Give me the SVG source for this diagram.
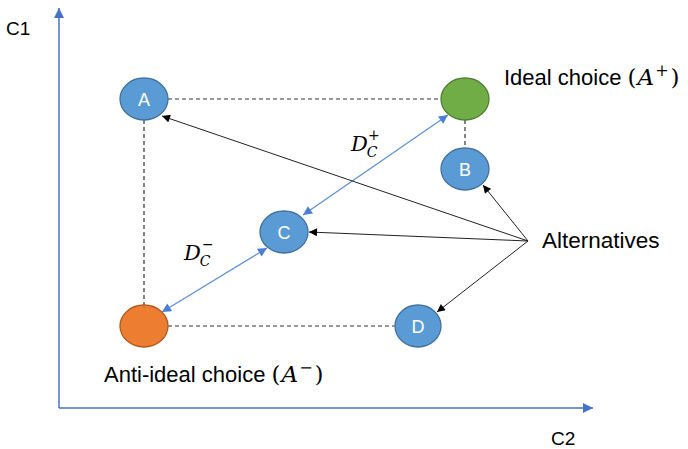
<svg xmlns="http://www.w3.org/2000/svg" width="688" height="449" viewBox="0 0 688 449">
<style>
.sans{font-family:"Liberation Sans",Arial,sans-serif;fill:#000}
.math{font-family:"DejaVu Serif","Liberation Serif",serif;fill:#000}
.it{font-style:italic}
.blue{fill:#5B9BD5;stroke:#41719C;stroke-width:1.3}
.lbl{font-family:"Liberation Sans",Arial,sans-serif;font-size:18px;fill:#fff;text-anchor:middle}
.dash{stroke:#333;stroke-width:1.2;stroke-dasharray:4 3;fill:none}
.axis{stroke:#4472C4;stroke-width:1.5;fill:none}
.barrow{stroke:#5B8ED6;stroke-width:1.2;fill:none}
.karrow{stroke:#222;stroke-width:1;fill:none}
</style>
<defs>
<marker id="ab" viewBox="0 0 10 10" refX="10" refY="5" markerWidth="10" markerHeight="10" markerUnits="userSpaceOnUse" orient="auto-start-reverse"><path d="M0,0 L10,5 L0,10 z" fill="#4472C4"/></marker>
<marker id="bb" viewBox="0 0 10 10" refX="10" refY="5" markerWidth="10" markerHeight="9" markerUnits="userSpaceOnUse" orient="auto-start-reverse"><path d="M0,0 L10,5 L0,10 z" fill="#4A7FD4"/></marker>
<marker id="kb" viewBox="0 0 10 10" refX="10" refY="5" markerWidth="10" markerHeight="8" markerUnits="userSpaceOnUse" orient="auto"><path d="M0,0 L10,5 L0,10 z" fill="#000"/></marker>
</defs>
<g id="axes">
<line class="axis" x1="59" y1="408" x2="59" y2="8" marker-end="url(#ab)"/>
<line class="axis" x1="59" y1="408" x2="593" y2="408" marker-end="url(#ab)"/>
<text class="sans" x="6" y="35" font-size="19">C1</text>
<text class="sans" x="551" y="445" font-size="19">C2</text>
</g>
<g id="connectors">
<line class="dash" x1="168" y1="99" x2="441" y2="99"/>
<line class="dash" x1="144" y1="120" x2="144" y2="305"/>
<line class="dash" x1="465" y1="120" x2="465" y2="148"/>
<line class="dash" x1="168" y1="326" x2="395" y2="326"/>
<line class="barrow" x1="303" y1="215" x2="448" y2="115" marker-start="url(#bb)" marker-end="url(#bb)"/>
<line class="barrow" x1="267" y1="248" x2="162" y2="312" marker-start="url(#bb)" marker-end="url(#bb)"/>
<line class="karrow" x1="528" y1="241" x2="162" y2="116" marker-end="url(#kb)"/>
<line class="karrow" x1="528" y1="241" x2="309" y2="232" marker-end="url(#kb)"/>
<line class="karrow" x1="528" y1="241" x2="483" y2="185" marker-end="url(#kb)"/>
<line class="karrow" x1="528" y1="241" x2="437" y2="312" marker-end="url(#kb)"/>
</g>
<g id="node-A"><ellipse class="blue" cx="144" cy="99" rx="24" ry="21"/><text class="lbl" x="144" y="106">A</text></g>
<g id="node-ideal"><ellipse cx="465" cy="99" rx="24" ry="21" fill="#70AD47" stroke="#507E32" stroke-width="1.3"/></g>
<g id="node-B"><ellipse class="blue" cx="465" cy="169" rx="24" ry="21"/><text class="lbl" x="465" y="176">B</text></g>
<g id="node-C"><ellipse class="blue" cx="284" cy="232" rx="24" ry="21"/><text class="lbl" x="284" y="239">C</text></g>
<g id="node-anti"><ellipse cx="144" cy="326" rx="24" ry="21" fill="#ED7D31" stroke="#AE5A21" stroke-width="1.3"/></g>
<g id="node-D"><ellipse class="blue" cx="418" cy="326" rx="23" ry="21"/><text class="lbl" x="418" y="333">D</text></g>
<g id="labels">
<text class="sans" x="504" y="85" font-size="22">Ideal choice <tspan class="math" font-size="23">(</tspan><tspan class="math it" font-size="23" dx="1">A</tspan><tspan class="math" font-size="16" dy="-9" dx="1">+</tspan><tspan class="math" font-size="23" dy="9" dx="2">)</tspan></text>
<text class="sans" x="104" y="382" font-size="22">Anti-ideal choice <tspan class="math" font-size="23">(</tspan><tspan class="math it" font-size="23" dx="1">A</tspan><tspan class="math" font-size="16" dy="-9" dx="1">−</tspan><tspan class="math" font-size="23" dy="9" dx="2">)</tspan></text>
<text class="sans" x="542" y="248" font-size="22.5">Alternatives</text>
<text class="math it" x="351" y="151" font-size="21">D<tspan font-size="14" dy="6" dx="-1">C</tspan></text>
<text class="math" x="368" y="140" font-size="14">+</text>
<text class="math it" x="184" y="260" font-size="21">D<tspan font-size="14" dy="6" dx="-1">C</tspan></text>
<text class="math" x="202" y="249" font-size="14">−</text>
</g>
</svg>
